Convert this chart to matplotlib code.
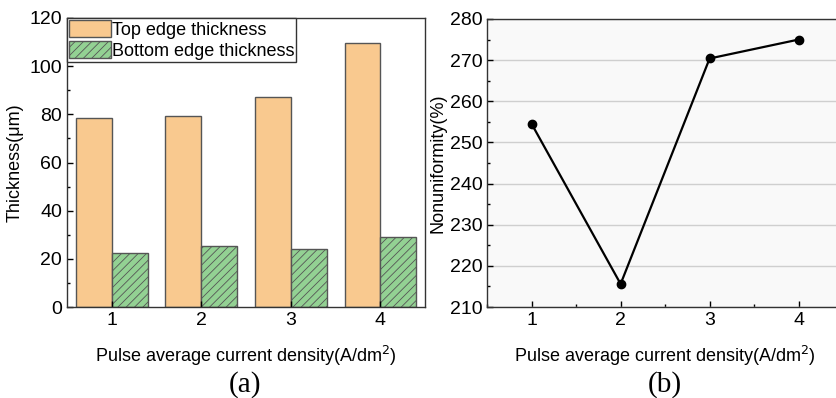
import matplotlib.pyplot as plt
import numpy as np
from matplotlib.ticker import MultipleLocator

# Data
current_density = [1, 2, 3, 4]
top_edge = [78.5, 79.5, 87.3, 109.5]
bottom_edge = [22.3, 25.2, 24.1, 29.2]
nonuniformity = [254.5, 215.6, 270.4, 275.0]

plt.rcParams.update({
    "font.family": ["Liberation Sans", "DejaVu Sans"],
    "font.size": 13,
    "axes.linewidth": 1,
    "hatch.linewidth": 0.6,
    "hatch.color": "#333333",
})

fig = plt.figure(figsize=(8.37, 3.98), dpi=100)
ax1 = fig.add_axes([0.080, 0.2286, 0.428, 0.7262])
ax2 = fig.add_axes([0.582, 0.2286, 0.4253, 0.7237])

x = np.array(current_density)
w = 0.4
ax1.bar(x - w / 2, top_edge, w, color="#f9c98f", edgecolor="#555555", lw=1,
        label="Top edge thickness")
ax1.bar(x + w / 2, bottom_edge, w, color="#93d193", edgecolor="#555555", lw=1,
        hatch="////", label="Bottom edge thickness")
ax1.set_xlim(0.5, 4.5)
ax1.set_ylim(0, 120)
ax1.set_xticks(current_density)
ax1.yaxis.set_major_locator(MultipleLocator(20))
ax1.yaxis.set_minor_locator(MultipleLocator(10))
ax1.set_ylabel("Thickness(\u03bcm)")
ax1.yaxis.set_label_coords(-0.12, 0.5)
ax1.set_xlabel("Pulse average current density(A/dm$^2$)", labelpad=11)
leg = ax1.legend(loc="upper left", borderaxespad=0, borderpad=0.12,
                 handlelength=2.3, handleheight=1.1, handletextpad=0.05,
                 labelspacing=0.12, fancybox=False, edgecolor="#333333",
                 framealpha=1)
leg.get_frame().set_linewidth(1)

ax2.set_facecolor("#f9f9f9")
ax2.grid(axis="y", color="#cfcfcf", lw=1)
ax2.set_axisbelow(True)
ax2.plot(current_density, nonuniformity, color="black", lw=1.6,
         marker="o", markersize=6)
ax2.set_xlim(0.5, 4.5)
ax2.set_ylim(210, 280)
ax2.set_xticks(current_density)
ax2.xaxis.set_minor_locator(MultipleLocator(0.5))
ax2.yaxis.set_major_locator(MultipleLocator(10))
ax2.yaxis.set_minor_locator(MultipleLocator(5))
ax2.set_ylabel("Nonuniformity(%)")
ax2.yaxis.set_label_coords(-0.115, 0.5)
ax2.set_xlabel("Pulse average current density(A/dm$^2$)", labelpad=11)

for ax in (ax1, ax2):
    ax.tick_params(which="major", direction="in", length=4, width=1,
                   labelsize=14)
    ax.tick_params(which="minor", direction="in", length=2.5, width=1)
    ax.tick_params(axis="x", which="both", top=False)
    ax.tick_params(axis="y", which="both", right=False)
    for s in ax.spines.values():
        s.set_color("#333333")

fig.text(245 / 837, 1 - 385 / 398, "(a)", family="Liberation Serif",
         fontsize=21, ha="center", va="center")
fig.text(665 / 837, 1 - 385 / 398, "(b)", family="Liberation Serif",
         fontsize=21, ha="center", va="center")

fig.savefig("out.png", dpi=100)
